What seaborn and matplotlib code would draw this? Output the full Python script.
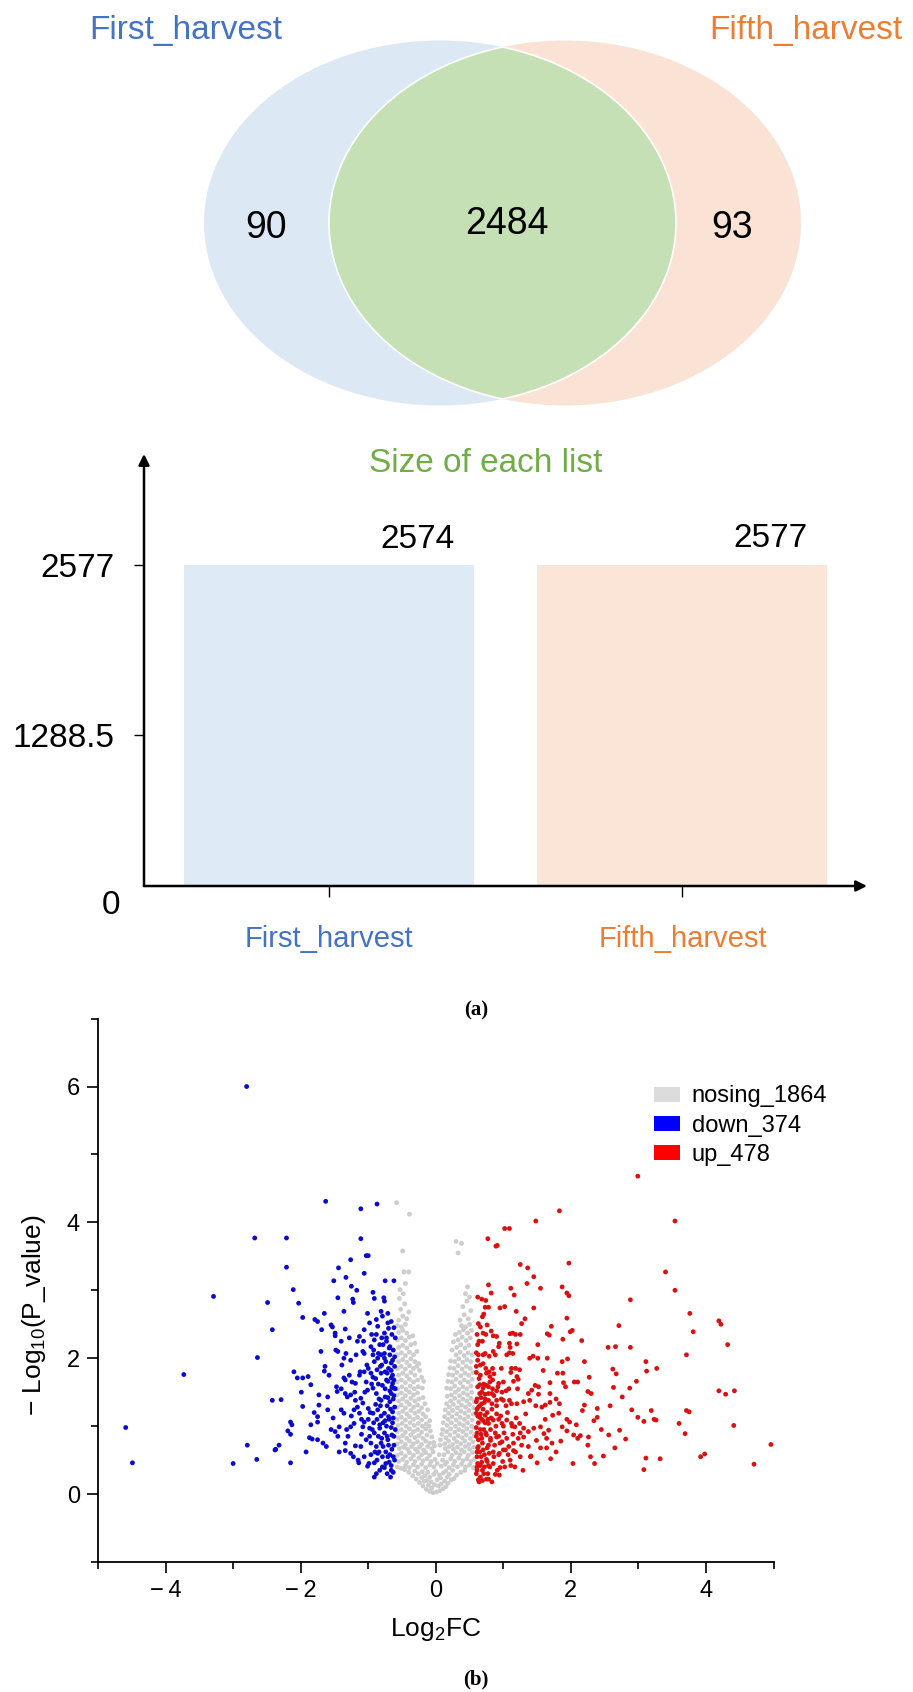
import numpy as np
import pandas as pd
import matplotlib
matplotlib.use("Agg")
import matplotlib.pyplot as plt
import seaborn as sns
from matplotlib.patches import Ellipse, Patch
from matplotlib.ticker import MultipleLocator, FuncFormatter
import matplotlib.transforms as mtransforms

# ---------------- data ----------------
set_names = ["First_harvest", "Fifth_harvest"]
only_first = 90
shared = 2484
only_fifth = 93
list_sizes = [2574, 2577]

group_labels = ["nosing_1864", "down_374", "up_478"]

down_points = [
    (-2.80, 6.00), (-1.63, 4.31), (-1.11, 4.20), (-0.87, 4.27), (-2.68, 3.77), (-2.21, 3.77), (-1.11, 3.76), (-1.03, 3.51), (-1.00, 3.51),
    (-2.21, 3.34), (-1.26, 3.45), (-1.44, 3.33), (-3.29, 2.91), (-2.11, 3.01), (-1.51, 3.14), (-1.33, 3.19), (-1.25, 3.06), (-1.06, 3.25),
    (-1.17, 3.00), (-0.75, 3.14), (-0.62, 3.14), (-2.49, 2.82), (-2.03, 2.81), (-1.45, 2.89), (-1.23, 2.87), (-1.22, 2.82), (-0.93, 2.97),
    (-0.91, 2.88), (-0.77, 2.89), (-0.76, 2.84), (-2.42, 2.42), (-2.64, 2.01), (-1.97, 2.60), (-1.79, 2.57), (-1.75, 2.54), (-1.65, 2.66),
    (-1.36, 2.69), (-1.01, 2.66), (-1.55, 2.49), (-1.53, 2.46), (-1.69, 2.42), (-1.49, 2.37), (-1.49, 2.33), (-1.34, 2.43), (-1.13, 2.32),
    (-1.16, 2.25), (-1.06, 2.42), (-0.98, 2.52), (-0.88, 2.57), (-0.86, 2.47), (-0.81, 2.69), (-0.79, 2.62), (-0.71, 2.66), (-0.66, 2.54),
    (-0.76, 2.37), (-0.70, 2.44), (-0.88, 2.35), (-0.91, 2.27), (-1.40, 2.25), (-1.48, 2.12), (-1.45, 2.10), (-1.33, 2.07), (-1.36, 2.00),
    (-1.26, 1.97), (-1.08, 2.10), (-1.06, 2.07), (-0.96, 2.17), (-0.92, 2.12), (-0.85, 2.07), (-0.81, 2.05), (-0.76, 2.07), (-0.68, 2.05),
    (-0.64, 1.97), (-0.66, 1.93), (-0.91, 1.95), (-0.73, 2.25), (-0.68, 2.17), (-2.10, 1.80), (-2.05, 1.71), (-1.97, 1.71), (-1.89, 1.73),
    (-3.73, 1.76), (-1.64, 1.88), (-1.65, 1.81), (-1.39, 1.90), (-1.36, 1.71), (-1.34, 1.68), (-1.24, 1.65), (-1.19, 1.63), (-1.13, 1.75),
    (-1.06, 1.80), (-1.00, 1.85), (-0.96, 1.78), (-0.87, 1.83), (-0.81, 1.78), (-0.75, 1.80), (-0.66, 1.71), (-0.71, 1.66), (-0.64, 1.63),
    (-1.85, 1.61), (-1.99, 1.50), (-1.73, 1.46), (-1.60, 1.43), (-1.47, 1.58), (-1.46, 1.51), (-1.34, 1.48), (-1.31, 1.43), (-1.26, 1.46),
    (-1.19, 1.38), (-1.11, 1.41), (-1.08, 1.34), (-1.01, 1.53), (-0.93, 1.56), (-0.88, 1.48), (-0.81, 1.38), (-0.75, 1.43), (-0.68, 1.36),
    (-0.66, 1.48), (-0.62, 1.56), (-2.42, 1.38), (-2.29, 1.39), (-1.73, 1.31), (-1.60, 1.24), (-1.40, 1.24), (-1.36, 1.19), (-1.21, 1.24),
    (-1.13, 1.19), (-1.00, 1.26), (-0.93, 1.19), (-0.86, 1.24), (-0.76, 1.19), (-0.70, 1.14), (-0.64, 1.21), (-1.75, 1.14), (-1.85, 1.02),
    (-1.75, 1.06), (-2.15, 1.06), (-2.13, 1.02), (-1.55, 0.95), (-1.49, 0.92), (-1.43, 0.99), (-1.26, 0.99), (-1.21, 1.04), (-1.08, 0.99),
    (-1.06, 1.06), (-0.98, 0.97), (-0.91, 0.90), (-0.83, 0.97), (-0.76, 0.90), (-0.71, 0.80), (-0.65, 0.87), (-2.19, 0.93), (-2.15, 0.88),
    (-1.87, 0.83), (-1.83, 0.81), (-1.75, 0.80), (-1.67, 0.75), (-1.45, 0.85), (-1.34, 0.75), (-1.19, 0.71), (-1.11, 0.70), (-0.96, 0.75),
    (-0.88, 0.70), (-0.81, 0.75), (-2.79, 0.72), (-2.37, 0.66), (-2.32, 0.72), (-2.65, 0.51), (-3.00, 0.45), (-2.15, 0.46), (-4.49, 0.46),
    (-4.59, 0.98), (-1.34, 0.64), (-1.26, 0.60), (-1.06, 0.55), (-0.96, 0.58), (-0.86, 0.60), (-0.79, 0.55), (-0.68, 0.58), (-1.14, 0.46),
    (-1.01, 0.41), (-0.91, 0.46), (-0.83, 0.35), (-0.76, 0.39), (-0.66, 0.42), (-0.91, 0.25), (-1.97, 1.29), (-2.38, 0.65),
    (-0.60, 2.30), (-0.63, 2.12), (-0.61, 1.88), (-0.64, 1.75), (-0.60, 1.55), (-0.63, 1.40), (-0.61, 1.28), (-0.64, 1.05), (-0.60, 0.95),
    (-0.62, 0.72), (-0.61, 0.50), (-0.63, 0.32), (-0.67, 0.25), (-0.72, 0.30), (-0.69, 0.47), (-0.74, 0.62), (-0.70, 0.72), (-0.73, 1.00),
    (-0.69, 1.10), (-0.72, 1.30), (-0.68, 1.52), (-0.73, 1.68), (-0.70, 1.85), (-0.74, 1.95), (-0.69, 2.15), (-0.73, 2.30), (-0.78, 2.20),
    (-0.80, 1.90), (-0.79, 1.60), (-0.82, 1.30), (-0.78, 1.05), (-0.80, 0.82), (-0.84, 0.62), (-0.79, 0.40), (-0.88, 0.30), (-0.85, 0.85),
    (-0.87, 1.10), (-0.84, 1.40), (-0.89, 1.70), (-0.86, 2.00), (-0.83, 2.20), (-0.93, 2.05), (-0.95, 1.62), (-0.97, 1.20), (-0.94, 0.95),
    (-0.99, 0.45), (-1.03, 0.80), (-1.05, 1.50), (-1.02, 1.90), (-1.10, 1.10), (-1.12, 1.80), (-1.15, 0.50), (-1.20, 1.50), (-1.25, 1.15),
    (-1.28, 2.30), (-1.30, 0.85),
    (-0.62, 2.45), (-0.65, 2.35), (-0.61, 2.02), (-0.66, 1.82), (-0.62, 1.68), (-0.65, 1.58), (-0.62, 1.45), (-0.67, 1.25), (-0.63, 1.12),
    (-0.66, 0.98), (-0.62, 0.85), (-0.65, 0.66), (-0.63, 0.55), (-0.66, 0.35), (-0.71, 0.55), (-0.74, 0.45), (-0.72, 0.85), (-0.75, 1.08),
    (-0.71, 1.42), (-0.75, 1.55), (-0.72, 1.78), (-0.76, 2.00), (-0.71, 2.52), (-0.78, 0.70), (-0.81, 1.15), (-0.83, 1.02), (-0.85, 1.62),
    (-0.82, 1.88), (-0.80, 2.30), (-0.87, 0.50), (-0.90, 0.62), (-0.92, 1.05), (-0.89, 1.32), (-0.93, 1.72), (-0.95, 2.35), (-0.98, 0.85),
    (-1.00, 1.10), (-1.03, 1.65), (-1.07, 2.25), (-1.10, 0.88), (-1.16, 1.28), (-1.18, 2.05), (-1.22, 0.55), (-1.28, 1.75), (-1.32, 0.95),
    (-1.40, 1.55), (-1.43, 0.62), (-1.52, 1.12), (-1.58, 1.75), (-1.62, 0.70), (-1.70, 2.10), (-1.80, 1.20), (-1.92, 0.62),
]

up_points = [
    (2.99, 4.68), (1.83, 4.17), (3.54, 4.02), (1.48, 4.02), (1.02, 3.91), (1.09, 3.91), (0.77, 3.76), (0.89, 3.65), (0.91, 3.66),
    (3.40, 3.27), (3.54, 3.00), (1.97, 3.40), (1.25, 3.38), (1.36, 3.33), (1.45, 3.20), (1.35, 3.10), (1.55, 3.03), (1.87, 3.05),
    (1.94, 2.96), (1.97, 2.92), (1.11, 3.03), (1.16, 2.93), (0.78, 3.08), (0.82, 2.96), (0.68, 2.87), (0.74, 2.85), (0.73, 2.75),
    (0.78, 2.75), (0.95, 2.74), (1.02, 2.76), (1.19, 2.69), (1.45, 2.74), (2.88, 2.86), (3.76, 2.66), (4.19, 2.55), (4.22, 2.50),
    (2.71, 2.48), (1.94, 2.59), (1.71, 2.47), (1.65, 2.36), (1.68, 2.34), (1.99, 2.39), (2.02, 2.41), (3.81, 2.39), (0.69, 2.61),
    (0.63, 2.51), (0.66, 2.46), (0.76, 2.49), (0.70, 2.37), (0.74, 2.35), (0.85, 2.33), (0.90, 2.32), (1.10, 2.36), (1.14, 2.37),
    (1.18, 2.35), (1.25, 2.35), (1.32, 2.58), (1.27, 2.51), (1.88, 2.28), (2.16, 2.26), (1.51, 2.20), (4.32, 2.20), (0.94, 2.22),
    (0.93, 2.17), (1.09, 2.22), (1.10, 2.16), (1.20, 2.21), (0.62, 2.20), (2.55, 2.16), (2.66, 2.17), (2.88, 2.16), (0.60, 2.08),
    (0.73, 2.07), (0.79, 2.03), (0.88, 2.05), (1.09, 2.08), (1.14, 2.07), (1.39, 2.00), (1.44, 2.03), (1.51, 2.00), (1.65, 2.00),
    (1.87, 1.95), (1.95, 1.99), (3.11, 1.95), (3.71, 2.05), (0.62, 1.97), (0.70, 1.92), (0.84, 1.85), (0.86, 1.77), (1.12, 1.85),
    (1.18, 1.85), (1.24, 1.83), (1.11, 1.79), (1.20, 1.73), (1.22, 1.69), (1.59, 1.82), (1.80, 1.78), (1.88, 1.78), (2.27, 1.72),
    (2.62, 1.84), (2.67, 1.77), (3.12, 1.81), (3.27, 1.85), (0.60, 1.79), (0.75, 1.78), (0.80, 1.73), (0.93, 1.63), (1.00, 1.65),
    (1.15, 1.66), (1.47, 1.60), (1.52, 1.58), (1.69, 1.64), (1.89, 1.64), (2.05, 1.65), (2.10, 1.65), (2.97, 1.66), (2.63, 1.57),
    (2.87, 1.56), (2.25, 1.51), (2.30, 1.48), (4.19, 1.52), (4.29, 1.47), (4.42, 1.52), (0.65, 1.61), (0.70, 1.56), (0.78, 1.58),
    (0.65, 1.48), (0.73, 1.47), (0.83, 1.48), (0.90, 1.52), (0.98, 1.50), (1.04, 1.52), (1.37, 1.48), (1.42, 1.53), (1.69, 1.48),
    (1.52, 1.47), (2.76, 1.43), (0.60, 1.36), (0.63, 1.28), (0.68, 1.33), (0.78, 1.38), (0.83, 1.33), (0.90, 1.38), (1.00, 1.38),
    (1.09, 1.38), (1.12, 1.33), (1.20, 1.33), (1.30, 1.36), (1.39, 1.38), (1.57, 1.28), (1.62, 1.31), (1.69, 1.35), (1.83, 1.33),
    (2.17, 1.23), (2.20, 1.31), (2.39, 1.26), (2.90, 1.24), (3.19, 1.23), (3.71, 1.23), (3.75, 1.21), (0.60, 1.19), (0.65, 1.13),
    (0.73, 1.16), (0.70, 1.08), (0.78, 1.04), (0.85, 1.09), (0.93, 1.10), (0.98, 1.04), (1.05, 1.09), (1.12, 1.04), (1.17, 0.99),
    (1.24, 1.04), (1.30, 0.97), (1.37, 0.92), (1.45, 0.97), (1.55, 0.99), (1.60, 0.89), (1.67, 0.94), (1.73, 1.16), (1.82, 1.19),
    (1.94, 1.10), (1.98, 1.06), (1.87, 0.99), (1.94, 0.93), (2.34, 1.08), (2.39, 1.13), (2.99, 1.13), (3.08, 1.07), (3.23, 1.10),
    (3.26, 1.09), (3.60, 1.04), (4.41, 1.01), (0.61, 0.90), (0.68, 0.82), (0.75, 0.87), (0.81, 0.79), (0.90, 0.84), (0.98, 0.77),
    (1.05, 0.82), (1.15, 0.75), (1.22, 0.82), (1.30, 0.84), (1.37, 0.70), (1.49, 0.79), (1.64, 0.82), (1.72, 0.75), (2.04, 0.87),
    (2.10, 0.82), (2.14, 0.86), (2.26, 0.84), (2.25, 0.72), (2.56, 0.87), (2.72, 0.94), (2.81, 0.81), (3.69, 0.89), (0.63, 0.70),
    (0.70, 0.65), (0.78, 0.72), (0.85, 0.62), (0.93, 0.58), (1.00, 0.65), (1.07, 0.58), (1.15, 0.64), (1.25, 0.55), (1.29, 0.35),
    (1.41, 0.56), (1.50, 0.46), (1.64, 0.68), (1.78, 0.62), (2.03, 0.45), (2.29, 0.55), (2.35, 0.45), (2.48, 0.56), (2.65, 0.68),
    (3.11, 0.53), (3.32, 0.52), (3.08, 0.36), (3.92, 0.55), (3.98, 0.59), (4.71, 0.44), (4.96, 0.73), (0.61, 0.55), (0.68, 0.47),
    (0.75, 0.51), (0.61, 0.40), (0.69, 0.35), (0.78, 0.42), (0.88, 0.29), (0.95, 0.39), (0.63, 0.21), (1.11, 0.42), (1.17, 0.40),
    (0.60, 0.30), (0.62, 0.45), (0.61, 0.62), (0.63, 0.80), (0.60, 0.98), (0.62, 1.15), (0.61, 1.40), (0.64, 1.70), (0.66, 0.25),
    (0.67, 0.55), (0.69, 0.75), (0.66, 0.95), (0.70, 1.25), (0.68, 1.50), (0.72, 0.40), (0.74, 0.90), (0.76, 1.20), (0.73, 1.40),
    (0.77, 0.30), (0.79, 0.60), (0.81, 0.95), (0.83, 1.25), (0.80, 1.65), (0.85, 0.45), (0.87, 0.72), (0.89, 1.00), (0.86, 1.45),
    (0.91, 0.35), (0.93, 0.85), (0.96, 1.15), (0.99, 0.48), (1.01, 0.90), (1.04, 1.30), (1.08, 0.70), (1.13, 1.00), (0.64, 2.25),
    (0.71, 2.65), (0.62, 2.90), (0.66, 1.90), (0.70, 2.05), (0.75, 1.60), (0.82, 2.40), (0.97, 1.85), (1.05, 2.05), (0.64, 0.18),
    (0.69, 0.20), (0.78, 0.22), (0.83, 0.18), (0.73, 1.05), (0.68, 1.10), (0.65, 1.30), (0.76, 0.48), (0.94, 0.60), (1.18, 0.62),
    (1.25, 0.90), (1.02, 0.40), (0.90, 1.30), (0.84, 1.55), (0.79, 1.80),
    (0.61, 2.35), (0.63, 2.05), (0.60, 1.88), (0.62, 1.58), (0.61, 1.25), (0.63, 1.05), (0.60, 0.85), (0.62, 0.68), (0.61, 0.35),
    (0.66, 0.42), (0.65, 0.62), (0.67, 0.88), (0.66, 1.18), (0.67, 1.42), (0.66, 1.75), (0.69, 2.25), (0.71, 0.30), (0.72, 0.58),
    (0.71, 0.95), (0.72, 1.35), (0.71, 1.62), (0.74, 1.85), (0.75, 0.22), (0.76, 0.68), (0.77, 1.10), (0.78, 1.48), (0.80, 0.40),
    (0.81, 0.82), (0.82, 1.12), (0.84, 1.68), (0.85, 2.10), (0.86, 0.55), (0.88, 0.90), (0.90, 1.18), (0.92, 1.58), (0.94, 0.28),
    (0.95, 0.75), (0.97, 1.40), (1.00, 1.00), (1.03, 0.65), (1.06, 1.20), (1.08, 1.55), (1.10, 0.50), (1.14, 0.88), (1.19, 1.12),
    (1.21, 1.55), (1.27, 0.72), (1.33, 1.18), (1.40, 0.55), (1.48, 1.30), (1.55, 0.68), (1.62, 1.10), (1.70, 0.52), (1.78, 1.40),
    (1.85, 0.78), (1.92, 1.58), (2.08, 1.02), (2.20, 1.95), (2.45, 0.95), (2.58, 1.30),
]

nosig_points = [
    # bottom of the cloud
    (-0.14, 0.07), (-0.09, 0.04), (-0.04, 0.02), (0.01, 0.03), (0.06, 0.05), (0.11, 0.08), (0.15, 0.11), (-0.19, 0.12), (-0.11, 0.13),
    (-0.06, 0.09), (0.04, 0.12), (0.08, 0.15), (0.18, 0.16), (-0.24, 0.17), (-0.17, 0.19), (-0.02, 0.14), (0.13, 0.19), (0.23, 0.21),
    (-0.29, 0.22), (-0.21, 0.24), (-0.13, 0.20), (-0.07, 0.18), (0.02, 0.21), (0.07, 0.24), (0.17, 0.25), (0.27, 0.23), (-0.34, 0.27),
    (-0.26, 0.30), (-0.16, 0.27), (-0.09, 0.25), (-0.03, 0.29), (0.05, 0.28), (0.11, 0.31), (0.20, 0.29), (0.31, 0.28), (0.37, 0.32),
    (-0.40, 0.32), (-0.31, 0.34), (-0.20, 0.33), (0.15, 0.34), (0.25, 0.35), (0.43, 0.35), (-0.46, 0.36), (0.00, 0.33), (-0.12, 0.32),
    # 0.35 - 0.7
    (-0.57, 0.40), (-0.51, 0.38), (-0.45, 0.42), (-0.39, 0.39), (-0.33, 0.43), (-0.27, 0.40), (-0.21, 0.44), (-0.15, 0.39), (-0.09, 0.43),
    (-0.03, 0.40), (0.08, 0.41), (0.14, 0.44), (0.20, 0.39), (0.26, 0.43), (0.32, 0.40), (0.38, 0.44), (0.44, 0.40), (0.50, 0.43),
    (0.56, 0.39), (-0.55, 0.48), (-0.49, 0.51), (-0.43, 0.47), (-0.37, 0.52), (-0.31, 0.48), (-0.25, 0.53), (-0.19, 0.49), (-0.13, 0.52),
    (-0.07, 0.48), (-0.01, 0.51), (0.10, 0.50), (0.16, 0.47), (0.22, 0.52), (0.28, 0.48), (0.34, 0.53), (0.40, 0.49), (0.46, 0.52),
    (0.52, 0.48), (0.57, 0.51), (-0.57, 0.57), (-0.51, 0.60), (-0.45, 0.56), (-0.39, 0.61), (-0.33, 0.57), (-0.27, 0.62), (-0.21, 0.58),
    (-0.15, 0.61), (-0.09, 0.57), (-0.04, 0.62), (0.12, 0.58), (0.18, 0.62), (0.24, 0.57), (0.30, 0.61), (0.36, 0.58), (0.42, 0.62),
    (0.48, 0.57), (0.54, 0.61), (-0.54, 0.67), (-0.48, 0.69), (-0.42, 0.66), (-0.36, 0.70), (-0.30, 0.66), (-0.24, 0.69), (-0.18, 0.65),
    (-0.12, 0.70), (-0.06, 0.67), (0.14, 0.67), (0.20, 0.70), (0.26, 0.66), (0.32, 0.69), (0.38, 0.65), (0.44, 0.70), (0.50, 0.66),
    (0.56, 0.69), (0.05, 0.58), (0.02, 0.45),
    # 0.7 - 1.0
    (-0.57, 0.74), (-0.51, 0.77), (-0.45, 0.73), (-0.39, 0.78), (-0.33, 0.74), (-0.27, 0.77), (-0.21, 0.73), (-0.15, 0.78), (-0.09, 0.75),
    (0.13, 0.74), (0.19, 0.78), (0.25, 0.73), (0.31, 0.77), (0.37, 0.74), (0.43, 0.78), (0.49, 0.73), (0.55, 0.77), (-0.55, 0.83),
    (-0.49, 0.86), (-0.43, 0.82), (-0.37, 0.87), (-0.31, 0.83), (-0.25, 0.86), (-0.19, 0.82), (-0.13, 0.87), (0.15, 0.83), (0.21, 0.87),
    (0.27, 0.82), (0.33, 0.86), (0.39, 0.83), (0.45, 0.87), (0.51, 0.82), (0.57, 0.86), (-0.57, 0.92), (-0.51, 0.95), (-0.45, 0.91),
    (-0.39, 0.96), (-0.33, 0.92), (-0.27, 0.95), (-0.21, 0.91), (-0.15, 0.96), (0.16, 0.92), (0.22, 0.96), (0.28, 0.91), (0.34, 0.95),
    (0.40, 0.92), (0.46, 0.96), (0.52, 0.91), (0.57, 0.97), (-0.03, 0.76), (-0.06, 0.84), (0.07, 0.80), (0.09, 0.88), (-0.08, 0.93),
    (0.10, 0.95), (-0.02, 0.71), (0.06, 0.72),
    # 1.0 - 1.5
    (-0.56, 1.01), (-0.50, 1.04), (-0.44, 1.00), (-0.38, 1.05), (-0.32, 1.01), (-0.26, 1.04), (-0.20, 1.00), (0.17, 1.01), (0.23, 1.05),
    (0.29, 1.00), (0.35, 1.04), (0.41, 1.01), (0.47, 1.05), (0.53, 1.00), (-0.57, 1.10), (-0.51, 1.13), (-0.45, 1.09), (-0.39, 1.14),
    (-0.33, 1.10), (-0.27, 1.13), (-0.21, 1.09), (0.18, 1.10), (0.24, 1.14), (0.30, 1.09), (0.36, 1.13), (0.42, 1.10), (0.48, 1.14),
    (0.54, 1.09), (-0.55, 1.19), (-0.49, 1.22), (-0.43, 1.18), (-0.37, 1.23), (-0.31, 1.19), (-0.25, 1.22), (-0.19, 1.18), (0.19, 1.19),
    (0.25, 1.23), (0.31, 1.18), (0.37, 1.22), (0.43, 1.19), (0.49, 1.23), (0.55, 1.18), (-0.57, 1.28), (-0.51, 1.31), (-0.45, 1.27),
    (-0.39, 1.32), (-0.33, 1.28), (-0.27, 1.31), (-0.21, 1.27), (0.20, 1.28), (0.26, 1.32), (0.32, 1.27), (0.38, 1.31), (0.44, 1.28),
    (0.50, 1.32), (0.56, 1.27), (-0.55, 1.37), (-0.49, 1.40), (-0.43, 1.36), (-0.37, 1.41), (-0.31, 1.37), (-0.25, 1.40), (0.22, 1.37),
    (0.28, 1.41), (0.34, 1.36), (0.40, 1.40), (0.46, 1.37), (0.52, 1.41), (0.57, 1.36), (-0.57, 1.46), (-0.51, 1.49), (-0.45, 1.45),
    (-0.39, 1.50), (-0.33, 1.46), (-0.27, 1.49), (0.23, 1.46), (0.29, 1.50), (0.35, 1.45), (0.41, 1.49), (0.47, 1.46), (0.53, 1.50),
    (-0.14, 1.03), (-0.09, 1.08), (-0.15, 1.14), (0.11, 1.05), (0.13, 1.14), (-0.12, 1.24), (0.14, 1.24), (-0.16, 1.33), (-0.19, 1.42),
    (0.16, 1.33), (0.17, 1.44), (-0.10, 1.00),
    # 1.5 - 2.0
    (-0.56, 1.55), (-0.50, 1.58), (-0.44, 1.54), (-0.38, 1.59), (-0.32, 1.55), (-0.26, 1.58), (0.22, 1.55), (0.28, 1.59), (0.34, 1.54),
    (0.40, 1.58), (0.46, 1.55), (0.52, 1.59), (-0.57, 1.65), (-0.51, 1.68), (-0.45, 1.64), (-0.39, 1.69), (-0.33, 1.65), (-0.27, 1.68),
    (0.24, 1.65), (0.30, 1.69), (0.36, 1.64), (0.42, 1.68), (0.48, 1.65), (0.54, 1.69), (-0.55, 1.75), (-0.49, 1.78), (-0.43, 1.74),
    (-0.37, 1.79), (-0.31, 1.75), (0.25, 1.75), (0.31, 1.79), (0.37, 1.74), (0.43, 1.78), (0.49, 1.75), (0.55, 1.79), (-0.57, 1.85),
    (-0.51, 1.88), (-0.45, 1.84), (-0.39, 1.89), (-0.33, 1.85), (-0.28, 1.88), (0.27, 1.85), (0.33, 1.89), (0.39, 1.84), (0.45, 1.88),
    (0.51, 1.85), (-0.55, 1.95), (-0.49, 1.98), (-0.43, 1.94), (-0.37, 1.99), (-0.31, 1.95), (0.28, 1.95), (0.34, 1.99), (0.40, 1.94),
    (0.46, 1.98), (0.52, 1.95), (-0.20, 1.56), (-0.18, 1.66), (-0.21, 1.72), (0.16, 1.56), (0.18, 1.66), (0.19, 1.76), (-0.24, 1.82),
    (0.21, 1.86), (-0.25, 1.92), (0.22, 1.96),
    # 2.0 - 2.5
    (-0.57, 2.05), (-0.51, 2.08), (-0.45, 2.04), (-0.39, 2.09), (-0.33, 2.05), (0.30, 2.05), (0.36, 2.09), (0.42, 2.04), (0.48, 2.08),
    (0.54, 2.05), (-0.55, 2.16), (-0.49, 2.19), (-0.43, 2.15), (-0.37, 2.20), (0.31, 2.16), (0.37, 2.20), (0.43, 2.15), (0.49, 2.19),
    (-0.57, 2.27), (-0.51, 2.30), (-0.45, 2.26), (-0.39, 2.31), (0.33, 2.27), (0.39, 2.31), (0.45, 2.26), (0.51, 2.30), (-0.55, 2.38),
    (-0.49, 2.41), (-0.43, 2.37), (0.35, 2.38), (0.41, 2.42), (0.47, 2.37), (0.53, 2.41), (-0.57, 2.48), (-0.51, 2.46), (-0.45, 2.50),
    (0.38, 2.48), (0.44, 2.46), (0.50, 2.50), (-0.28, 2.10), (-0.31, 2.22), (0.24, 2.12), (0.26, 2.24), (-0.34, 2.33), (0.29, 2.35),
    # 2.5 and above
    (-0.55, 2.56), (-0.49, 2.62), (-0.43, 2.58), (-0.52, 2.72), (-0.46, 2.80), (-0.40, 2.68), (-0.54, 2.88), (-0.48, 2.95), (0.36, 2.56),
    (0.42, 2.64), (0.48, 2.58), (0.40, 2.76), (0.46, 2.84), (0.52, 2.70), (0.44, 2.95), (0.50, 2.90), (-0.53, 3.01), (-0.45, 3.10),
    (0.47, 3.05), (-0.58, 4.29), (-0.39, 4.12), (-0.49, 3.58), (-0.47, 3.27), (-0.40, 3.27), (0.30, 3.72), (0.38, 3.69), (0.33, 3.55),
]

# ---------------- style ----------------
sns.set_style("white")
plt.rcParams["font.family"] = ["Liberation Sans", "DejaVu Sans"]
plt.rcParams["mathtext.fontset"] = "custom"
plt.rcParams["mathtext.rm"] = "Liberation Sans"
plt.rcParams["mathtext.it"] = "Liberation Sans:italic"
plt.rcParams["mathtext.bf"] = "Liberation Sans:bold"
plt.rcParams["axes.unicode_minus"] = True
for key in ["text.color", "axes.labelcolor", "xtick.color", "ytick.color"]:
    plt.rcParams[key] = "black"

W, H = 913, 1692
fig = plt.figure(figsize=(W / 100, H / 100), dpi=100)
fig.patch.set_facecolor("white")


def px_axes(x0, y0, x1, y1):
    return fig.add_axes([x0 / W, 1 - y1 / H, (x1 - x0) / W, (y1 - y0) / H])


BLUE_TXT, ORANGE_TXT, GREEN_TXT = "#4472C4", "#ED7D31", "#70AD47"
BLUE_FILL, ORANGE_FILL, GREEN_FILL = "#DDE8F5", "#FAE3D5", "#C5E0B4"

# ---------------- Venn ----------------
axv = px_axes(0, 0, W, 470)
axv.set_xlim(0, W)
axv.set_ylim(470, 0)
axv.axis("off")
cy, ew, eh = 223, 472, 365
cxl, cxr = 440, 565
e1 = Ellipse((cxl, cy), ew, eh, fc=BLUE_FILL, ec="none")
e2 = Ellipse((cxr, cy), ew, eh, fc=ORANGE_FILL, ec="none")
axv.add_patch(e1)
axv.add_patch(e2)
lens = Ellipse((cxl, cy), ew, eh, fc=GREEN_FILL, ec="none")
axv.add_patch(lens)
lens.set_clip_path(e2)
edge1 = Ellipse((cxl, cy), ew, eh, fc="none", ec="white", lw=1.2)
axv.add_patch(edge1)
edge1.set_clip_path(e2)
edge2 = Ellipse((cxr, cy), ew, eh, fc="none", ec="white", lw=1.2)
axv.add_patch(edge2)
edge2.set_clip_path(e1)

axv.text(186, 30, set_names[0], color=BLUE_TXT, fontsize=24, ha="center", va="center")
axv.text(806, 30, set_names[1], color=ORANGE_TXT, fontsize=24, ha="center", va="center")
left_x = ((cxl - ew / 2) + (cxr - ew / 2)) / 2
right_x = ((cxl + ew / 2) + (cxr + ew / 2)) / 2 - 6
axv.text(left_x, cy + 5, str(only_first), fontsize=27, ha="center", va="center")
axv.text((cxl + cxr) / 2 + 4, cy + 1, str(shared), fontsize=27, ha="center", va="center")
axv.text(right_x, cy + 5, str(only_fifth), fontsize=27, ha="center", va="center")

# ---------------- bar chart ----------------
axb = px_axes(144, 454, 867, 886)
bar_df = pd.DataFrame({"set": set_names, "size": list_sizes})
sns.barplot(data=bar_df, x="set", y="size", hue="set", palette=["#DEEBF7", "#FBE5D6"],
            width=0.82, saturation=1, legend=False, linewidth=0, ax=axb)
ymax = max(list_sizes)
unit_px = 170 / (ymax / 2)
axb.set_ylim(19 / unit_px, 19 / unit_px + 432 / unit_px)
axb.set_xlim(-0.523, 1.522)
for s in axb.spines.values():
    s.set_visible(False)
arrow_kw = dict(arrowstyle="-|>", lw=1.8, color="black", mutation_scale=16, shrinkA=0, shrinkB=0)
axb.annotate("", xy=(1, 0), xytext=(0, 0), xycoords="axes fraction", arrowprops=arrow_kw)
axb.annotate("", xy=(0, 1), xytext=(0, 0), xycoords="axes fraction", arrowprops=arrow_kw)
axb.set_yticks([ymax / 2, ymax])
axb.set_yticklabels([f"{ymax / 2:g}", f"{ymax:g}"])
axb.tick_params(axis="y", length=7, width=1, pad=14, labelsize=24, left=True)
axb.tick_params(axis="x", length=8, width=1, pad=20, labelsize=21, bottom=True)
for lbl, c in zip(axb.get_xticklabels(), [BLUE_TXT, ORANGE_TXT]):
    lbl.set_color(c)
axb.set_xlabel("")
axb.set_ylabel("")
trans0 = mtransforms.offset_copy(
    mtransforms.blended_transform_factory(axb.transAxes, axb.transData), fig=fig, x=-24, y=0, units="dots")
axb.text(0, 0, "0", transform=trans0, ha="right", va="center", fontsize=24, clip_on=False)
for i, v in enumerate(list_sizes):
    axb.annotate(str(v), xy=(i + 0.25, v), xytext=(0, 19), textcoords="offset points",
                 ha="center", va="center", fontsize=24)
fig.text(486 / W, 1 - 464 / H, "Size of each list", color=GREEN_TXT, fontsize=24, ha="center", va="center")
fig.text(476 / W, 1 - 1010 / H, "(a)", fontsize=15, ha="center", va="center",
         family=["Liberation Serif", "DejaVu Serif"], fontweight="bold")

# ---------------- volcano ----------------
rows = ([(x, y, group_labels[0]) for x, y in nosig_points]
        + [(x, y, group_labels[1]) for x, y in down_points]
        + [(x, y, group_labels[2]) for x, y in up_points])
vdf = pd.DataFrame(rows, columns=["log2fc", "nlogp", "group"])
pal = {group_labels[0]: "#CDCDCD", group_labels[1]: "#0B0BD0", group_labels[2]: "#DD1010"}

axs = px_axes(98, 1018.6, 773.6, 1562)
sns.scatterplot(data=vdf, x="log2fc", y="nlogp", hue="group", palette=pal, s=12,
                linewidth=0, legend=False, ax=axs)
axs.set_xlim(-5, 5)
axs.set_ylim(-1, 7)
axs.spines["top"].set_visible(False)
axs.spines["right"].set_visible(False)
for k in ["left", "bottom"]:
    axs.spines[k].set_linewidth(1.3)
    axs.spines[k].set_color("black")
axs.xaxis.set_major_locator(MultipleLocator(2))
axs.xaxis.set_minor_locator(MultipleLocator(1))
axs.yaxis.set_major_locator(MultipleLocator(2))
axs.yaxis.set_minor_locator(MultipleLocator(1))
axs.set_yticks([0, 2, 4, 6])
minus_fmt = FuncFormatter(lambda v, p: ("\u2212\u2009" + f"{-v:g}") if v < 0 else f"{v:g}")
axs.xaxis.set_major_formatter(minus_fmt)
axs.yaxis.set_major_formatter(minus_fmt)
axs.tick_params(which="major", length=8, width=1.2, labelsize=17, direction="out", pad=5,
                left=True, bottom=True)
axs.tick_params(which="minor", length=5, width=1.2, direction="out", left=True, bottom=True)
axs.set_xlabel("Log$_2$FC", fontsize=19)
axs.set_ylabel("\u2212 Log$_{10}$(P_value)", fontsize=19)
axs.xaxis.label.set_va("center")
axs.yaxis.label.set_va("center")
axs.xaxis.set_label_coords(0.5, -0.125)
axs.yaxis.set_label_coords(-0.095, 0.455)

handles = [Patch(fc=c, ec="none") for c in ["#DCDCDC", "#0000FF", "#FF0000"]]
axs.legend(handles, group_labels, loc="upper left", bbox_to_anchor=(0.823, 0.877), frameon=False,
           fontsize=17, handlelength=1.1, handleheight=0.6, handletextpad=0.5, labelspacing=0.3,
           borderaxespad=0, borderpad=0)

fig.text(476 / W, 1 - 1679 / H, "(b)", fontsize=15, ha="center", va="center",
         family=["Liberation Serif", "DejaVu Serif"], fontweight="bold")

fig.savefig("out.png", dpi=100)
